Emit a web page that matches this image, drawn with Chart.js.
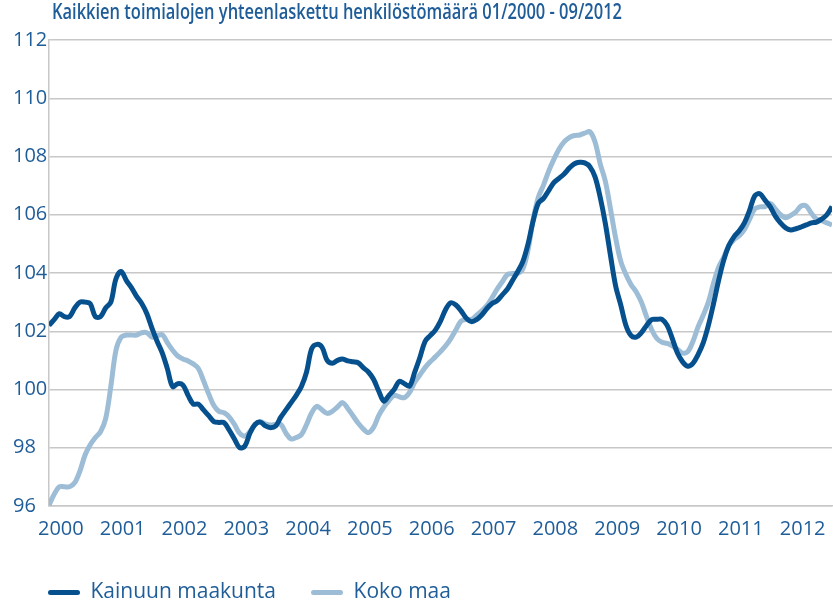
<!DOCTYPE html>
<html>
<head>
<meta charset="utf-8">
<script src="https://cdn.jsdelivr.net/npm/chart.js@4.4.1/dist/chart.umd.min.js"></script>
<style>
    body { margin: 0; background: #fff; }
    #kehys { position: relative; width: 833px; height: 605px; }
    #otsikko {
        position: absolute; left: 52px; top: -3px;
        font: 600 21px "Open Sans", sans-serif; color: #1f5d99;
        white-space: nowrap; transform-origin: 0 0;
    }
</style>
</head>
<body>
<div id="kehys">
    <canvas id="kaavio"></canvas>
    <div id="otsikko">Kaikkien toimialojen yhteenlaskettu henkilöstömäärä 01/2000 - 09/2012</div>
</div>
<script>
// Vuosien nimiöt x-akselille
const vuodet = ['2000', '2001', '2002', '2003', '2004', '2005', '2006',
    '2007', '2008', '2009', '2010', '2011', '2012'];

// Kuukausittaiset arvot 01/2000 - 09/2012, luettu kuvasta
const kainuu = [
    102.2, 102.4, 102.6, 102.5, 102.5, 102.8, 103.0, 103.0, 102.95, 102.5, 102.5, 102.8,
    103.0, 103.8, 104.05, 103.75, 103.5, 103.2, 102.95, 102.6, 102.1, 101.65, 101.25, 100.7,
    100.1, 100.2, 100.15, 99.8, 99.5, 99.5, 99.3, 99.1, 98.9, 98.87, 98.86, 98.6,
    98.3, 98.0, 98.05, 98.5, 98.8, 98.88, 98.75, 98.69, 98.75, 99.05, 99.3, 99.55,
    99.8, 100.1, 100.6, 101.4, 101.55, 101.45, 101.0, 100.9, 101.0, 101.05, 100.98, 100.95,
    100.92, 100.75, 100.6, 100.35, 99.95, 99.6, 99.8, 100.0, 100.28, 100.2, 100.12, 100.6,
    101.1, 101.65, 101.85, 102.04, 102.35, 102.75, 102.98, 102.9, 102.7, 102.45, 102.33, 102.4,
    102.56, 102.78, 102.95, 103.05, 103.25, 103.45, 103.75, 104.05, 104.4, 105.0, 105.8, 106.4,
    106.56, 106.83, 107.1, 107.25, 107.4, 107.6, 107.75, 107.8, 107.78, 107.65, 107.3, 106.6,
    105.7, 104.6, 103.55, 102.9, 102.2, 101.85, 101.8, 101.95, 102.2, 102.4, 102.41, 102.41,
    102.2, 101.75, 101.25, 100.95, 100.8, 100.9, 101.2, 101.6, 102.2, 102.95, 103.75, 104.45,
    104.95, 105.25, 105.45, 105.72, 106.15, 106.65, 106.72, 106.5, 106.28, 105.95, 105.72, 105.55,
    105.48, 105.52, 105.58, 105.65, 105.72, 105.75, 105.85, 106.0, 106.28
];

const kokoMaa = [
    96.03, 96.4, 96.66, 96.66, 96.66, 96.8, 97.2, 97.75, 98.1, 98.35, 98.55, 99.0,
    100.1, 101.35, 101.8, 101.87, 101.87, 101.87, 101.95, 101.95, 101.8, 101.85, 101.88, 101.6,
    101.35, 101.15, 101.05, 100.98, 100.88, 100.72, 100.3, 99.85, 99.45, 99.25, 99.2, 99.05,
    98.8, 98.5, 98.4, 98.55, 98.8, 98.9, 98.82, 98.78, 98.8, 98.8, 98.5, 98.3,
    98.35, 98.45, 98.8, 99.2, 99.42, 99.3, 99.18, 99.25, 99.4, 99.55, 99.35, 99.1,
    98.85, 98.65, 98.52, 98.7, 99.1, 99.4, 99.62, 99.8, 99.75, 99.72, 99.9, 100.25,
    100.5, 100.75, 100.95, 101.12, 101.3, 101.5, 101.75, 102.05, 102.35, 102.41, 102.41, 102.55,
    102.7, 102.88, 103.15, 103.45, 103.7, 103.95, 103.98, 103.99, 104.15, 104.8, 105.85, 106.6,
    107.02, 107.5, 107.9, 108.25, 108.5, 108.65, 108.72, 108.74, 108.8, 108.85, 108.5, 107.75,
    107.15, 106.2, 105.2, 104.4, 103.95, 103.6, 103.35, 103.0, 102.5, 102.05, 101.75, 101.62,
    101.58, 101.5, 101.38, 101.25, 101.3, 101.65, 102.15, 102.55, 103.0, 103.65, 104.2, 104.55,
    104.95, 105.15, 105.28, 105.5, 105.85, 106.2, 106.27, 106.28, 106.39, 106.2, 106.0, 105.9,
    105.98, 106.1, 106.3, 106.3, 106.05, 105.85, 105.8, 105.72, 105.65
];

document.addEventListener('DOMContentLoaded', () => {
    // Otsikko kavennetaan kuvan leveyteen
    const otsikko = document.getElementById('otsikko');
    otsikko.style.transform = 'scaleX(' + (570 / otsikko.getBoundingClientRect().width) + ')';

    const sininen = '#1f5d99';
    const harmaa = '#c8c8c8';
    const fontti = { family: 'Open Sans', size: 20 };

    // Kuukausi-indeksi x:ksi
    const pisteet = arvot => arvot.map((v, i) => ({ x: i, y: v }));

    new Chart(document.getElementById('kaavio'), {
        type: 'line',
        data: {
            datasets: [{
                label: 'Kainuun maakunta',
                data: pisteet(kainuu),
                borderColor: '#06508e',
                backgroundColor: '#06508e',
                borderWidth: 5,
                pointRadius: 0,
                tension: 0.35
            }, {
                label: 'Koko maa',
                data: pisteet(kokoMaa),
                borderColor: '#9dbdd6',
                backgroundColor: '#9dbdd6',
                borderWidth: 5,
                pointRadius: 0,
                tension: 0.35
            }]
        },
        options: {
            animation: false,
            responsive: true,
            maintainAspectRatio: false,
            layout: { padding: { left: 13, right: 1, top: 40, bottom: 0 } },
            scales: {
                x: {
                    type: 'linear',
                    min: 0,
                    max: kainuu.length - 1,
                    grid: { display: false },
                    border: { color: harmaa, width: 1.5 },
                    afterBuildTicks: s => { s.ticks = vuodet.map((v, i) => ({ value: i * 12 + 2.3 })); },
                    afterFit: s => { s.height = 41; },
                    ticks: {
                        autoSkip: false,
                        maxRotation: 0,
                        padding: 3,
                        color: sininen,
                        font: fontti,
                        callback: (v, i) => vuodet[i]
                    }
                },
                y: {
                    min: 96,
                    max: 112,
                    afterFit: s => { s.width = 36; },
                    grid: { color: harmaa, lineWidth: 1.5, drawTicks: false },
                    border: { color: harmaa, width: 1.5 },
                    ticks: {
                        stepSize: 2,
                        crossAlign: 'far',
                        padding: 0,
                        color: sininen,
                        font: fontti
                    }
                }
            },
            plugins: {
                tooltip: { enabled: false },
                legend: {
                    position: 'bottom',
                    align: 'start',
                    maxHeight: 58,
                    labels: {
                        padding: 35,
                        boxWidth: 32,
                        boxHeight: 5,
                        useBorderRadius: true,
                        borderRadius: 2.5,
                        color: sininen,
                        font: { family: 'Open Sans', size: 21 },
                        generateLabels: chart => Chart.defaults.plugins.legend.labels.generateLabels(chart)
                            .map(l => ({ ...l, lineWidth: 0 }))
                    }
                }
            }
        }
    });
});
</script>
</body>
</html>
